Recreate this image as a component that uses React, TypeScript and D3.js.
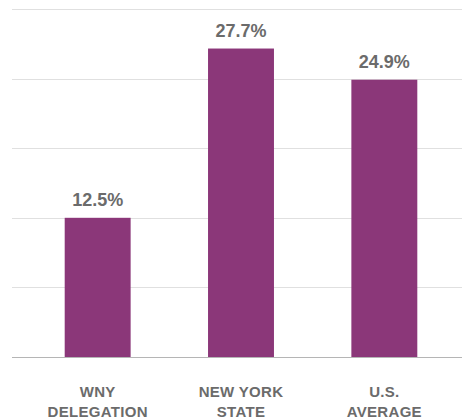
import React, { useEffect, useRef } from "react";
import * as d3 from "d3";

const categories = [["WNY", "DELEGATION"], ["NEW YORK", "STATE"], ["U.S.", "AVERAGE"]];
const values = [12.5, 27.7, 24.9];
const gridTicks = [0, 6.25, 12.5, 18.75, 25, 31.25];

const width = 462;
const height = 419;

export default function App() {
  const ref = useRef<SVGSVGElement>(null);

  useEffect(() => {
    const svg = d3.select(ref.current);
    svg.selectAll("*").remove();

    const ids = categories.map((_, i) => String(i));
    const x = d3.scaleBand().domain(ids).range([26, 456]).paddingInner(0.54).paddingOuter(0.27);
    const y = d3.scaleLinear().domain([0, 31.25]).range([357, 9]);

    // grid
    svg.append("g")
      .selectAll("line")
      .data(gridTicks)
      .enter()
      .append("line")
      .attr("x1", 12)
      .attr("x2", width)
      .attr("y1", d => Math.round(y(d)) + 0.5)
      .attr("y2", d => Math.round(y(d)) + 0.5)
      .attr("stroke", d => (d === 0 ? "#b5b5b5" : "#e0e0e0"))
      .attr("stroke-width", 1);

    svg.append("g")
      .selectAll("rect")
      .data(values)
      .enter()
      .append("rect")
      .attr("x", (_, i) => x(String(i))!)
      .attr("y", d => y(d))
      .attr("width", x.bandwidth())
      .attr("height", d => y(0) - y(d))
      .attr("fill", "#8b3779");

    svg.append("g")
      .selectAll("text")
      .data(values)
      .enter()
      .append("text")
      .attr("x", (_, i) => x(String(i))! + x.bandwidth() / 2)
      .attr("y", d => y(d) - 12)
      .attr("text-anchor", "middle")
      .attr("font-family", "Liberation Sans, Arial, sans-serif")
      .attr("font-size", 18)
      .attr("font-weight", 600)
      .attr("fill", "#6b6b6b")
      .text(d => `${d}%`);

    const labels = svg.append("g")
      .selectAll("text")
      .data(categories)
      .enter()
      .append("text")
      .attr("text-anchor", "middle")
      .attr("font-family", "Liberation Sans, Arial, sans-serif")
      .attr("font-size", 15)
      .attr("font-weight", 600)
      .attr("letter-spacing", 0.3)
      .attr("fill", "#6b6b6b");

    labels.each(function (d, i) {
      const cx = x(String(i))! + x.bandwidth() / 2;
      d.forEach((line, j) => {
        d3.select(this)
          .append("tspan")
          .attr("x", cx)
          .attr("y", 397 + j * 20)
          .text(line);
      });
    });
  }, []);

  return (
    <svg
      ref={ref}
      width={width}
      height={height}
      style={{ position: "absolute", left: 0, top: 0, background: "#fff" }}
    />
  );
}
